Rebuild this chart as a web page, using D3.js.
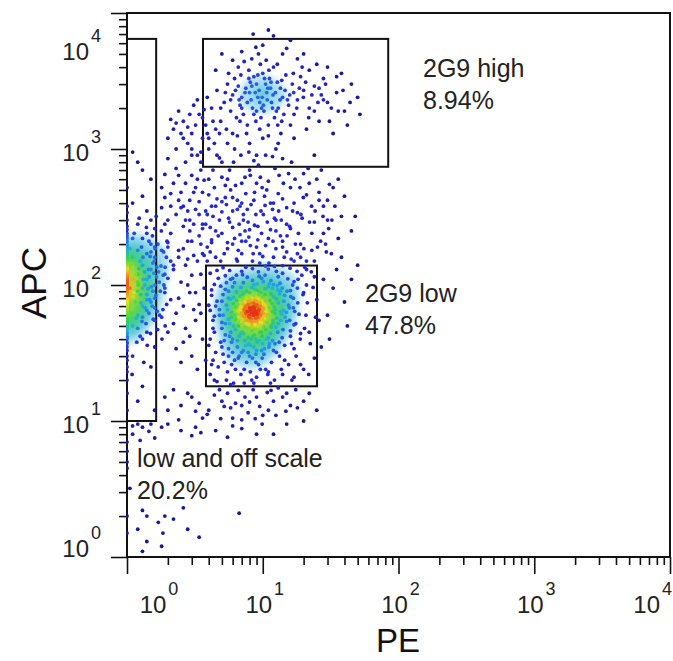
<!DOCTYPE html>
<html>
<head>
<meta charset="utf-8">
<script src="https://cdn.jsdelivr.net/npm/d3@7"></script>
<style>
  body { margin: 0; background: #fff; }
  svg { display: block; font-family: "Liberation Sans", Arial, sans-serif; }
</style>
</head>
<body>
<svg id="chart" width="673" height="661"></svg>
<script>
// --- DATA: events, [PE, APC] ---
const lowCore = [
  [4.6,128],[6.2,104],[7.5,135],[9.8,112],[12,101],[14,122],[5.3,117],[8.4,108],[11,131],[17,106],[7.1,119],[10.5,138],[5.8,110],[13,115],[9.1,102],
  [4.2,92],[5.1,85],[6.0,97],[6.8,83],[7.6,90],[8.3,96],[9.0,81],[9.7,88],[10.4,94],[11.5,86],[12.8,99],[14.5,84],[16,91],[5.6,80],[7.2,87],[8.8,93],[10,82],[11,97],[6.4,89],[13.5,90],[18,95],[4.9,98],[9.4,85],[7.9,82],
  [4.5,70],[5.0,76],[5.5,66],[6.1,73],[6.6,64],[7.0,78],[7.4,68],[7.8,72],[8.1,65],[8.5,75],[8.9,70],[9.3,79],[9.6,66],[10.1,73],[10.7,67],[11.3,77],[12.1,69],[13.0,74],[14.2,65],[15.5,71],[6.3,69],[7.6,64],[8.3,78],[9.0,63],[9.9,76],[11.8,64],[5.8,79],[8.0,68],[8.7,66],[10.4,71],[6.9,74],[12.6,79],[16.8,68],[4.1,65],[7.2,71],[9.5,74],
  [4.3,55],[4.8,60],[5.3,52],[5.9,58],[6.4,61],[6.8,53],[7.1,57],[7.5,62],[7.9,51],[8.2,56],[8.6,60],[8.9,54],[9.2,58],[9.6,50],[10.0,62],[10.6,55],[11.1,59],[11.9,52],[12.7,57],[13.8,61],[15.0,54],[6.1,50],[7.3,59],[8.4,53],[9.4,61],[10.3,57],[5.6,56],[7.7,55],[8.0,60],[8.8,51],[11.5,50],[6.6,57],[9.8,53],[14.6,58],[17.5,52],[12.3,62],[7.0,60],
  [4.4,45],[5.0,48],[5.7,42],[6.3,47],[6.9,44],[7.4,49],[7.8,41],[8.3,46],[8.7,43],[9.2,48],[9.9,42],[10.5,47],[11.4,44],[12.5,49],[13.9,41],[16,46],[6.0,40],[7.1,45],[8.0,48],[9.5,45],[11,41],[5.3,43],[8.9,40],[10.2,49],[19,44],
  [4.0,36],[4.9,38],[5.6,34],[6.5,39],[7.2,33],[7.9,37],[8.6,35],[9.4,39],[10.3,34],[11.2,37],[12.6,32],[14.5,36],[6.0,32],[8.2,40],[9.8,33],[5.2,39],[7.5,36],[11.8,39],[17,34],
  [4.3,28],[5.1,31],[5.9,26],[6.7,30],[7.6,27],[8.4,29],[9.3,26],[10.2,31],[11.6,27],[13.3,30],[6.2,28],[8.9,31],[15.5,26],[4.7,25],[7.0,32],
  [4.1,22],[5.4,20],[6.3,24],[7.3,19],[8.1,23],[9.0,21],[10.5,24],[12.2,20],[14,22],[5.8,18.5],[8.6,19],[11,23],[17,21],[20,24],[4.6,19.5],
  [6.7,58],[7.3,66],[8.6,62],[9.1,71],[7.9,59],[8.3,63],[6.9,69],[9.7,60],[10.6,64],[7.6,52],[8.9,57],[8.1,74],[7.0,62],[9.4,67],[6.5,72],[10.2,59],[8.4,81],[7.4,75],[11.2,68],[9.9,56],
  [5.9,63],[6.3,56],[7.7,48],[8.7,47],[9.6,53],[10.9,58],[11.7,73],[12.4,66],[6.1,81],[7.1,85],[8.0,88],[9.2,91],[10.4,85],[5.4,71],[5.1,60],[6.6,50],[7.2,44],[8.5,42],[9.8,45],[11.6,49],
  [8.2,67],[8.8,64],[7.5,70],[9.0,61],[8.0,58],[7.8,64],[9.3,65],[8.5,69],[7.2,59],[8.7,73],[6.8,66],[9.6,70],[10.0,67],[7.9,76],[8.3,54],[7.0,54],[9.2,50],[10.8,53],[6.2,60],[5.7,52],
  [7.4,39],[8.1,36],[6.7,42],[9.1,38],[10.7,40],[12.9,45],[13.6,55],[14.9,63],[12.0,82],[13.3,86],[5.6,90],[6.9,96],[4.8,66],[4.4,59],[11.9,55],[10.5,77],[7.6,80],[6.4,77],[9.0,76],[8.6,84]
];

// outer, sparser part of the 2G9 low gate
const lowGateEdge = [
  [4.1,122],[4.4,101],[4.2,84],[4.0,71],[4.3,48],[4.1,40],[4.5,32],[4.2,26],[4.4,20],[4.7,112],
  [5.1,134],[5.3,93],[5.0,35],[5.2,27],[5.5,23],[5.7,128],[5.9,38],[6.1,19],[6.4,118],[6.6,29],
  [7.0,126],[7.3,24],[7.7,114],[8.0,30],[8.4,132],[8.9,27],[9.3,125],[9.9,29],[10.4,118],[10.9,22],
  [11.5,108],[12.0,33],[12.6,126],[13.2,38],[13.9,95],[14.5,28],[15.3,111],[16.0,42],[16.8,80],[17.6,30],
  [18.5,61],[19.4,118],[20.3,48],[21.3,74],[22.4,37],[23.5,96],[24.5,58],[15.8,55],[17.2,64],[19.8,85],
  [14.1,47],[13.0,52],[16.3,37],[18.9,40],[12.3,37],[11.1,35],[10.0,37],[9.0,33],[7.8,32],[6.5,35],
  [5.8,45],[5.0,53],[4.6,76],[5.4,104],[6.0,112],[7.2,104],[8.6,100],[10.1,106],[11.8,95],[13.4,103],
  [15.1,90],[16.6,100],[18.2,110],[21,100],[22.8,125],[20.4,135],[17.9,126],[15.9,133],[14.0,139],[12.2,137],
  [6.9,22],[8.3,20],[9.6,24],[11.4,19],[13.7,24],[16.4,20],[19.0,26],[21.8,22],[24.0,29],[5.6,30],
  [14.3,76],[15.7,68],[17.0,51],[16.1,82],[13.6,64],[18.1,74],[20.8,60],[12.9,92],[11.2,102],[9.4,116]
];

const lowHalo = [
  [2.0,45],[2.3,62],[2.6,38],[2.9,88],[3.2,55],[3.5,120],[2.1,150],[2.5,105],[3.0,30],[3.4,72],[1.9,95],[2.2,130],[2.7,48],[3.1,165],[3.6,40],[2.4,80],[1.8,58],[2.8,210],[3.3,24],[3.7,95],
  [2.0,190],[2.6,70],[3.9,150],[2.3,34],[3.0,118],[2.1,78],[3.5,62],[2.9,42],[1.9,120],[3.2,88],[2.4,180],[2.7,140],[3.8,28],[2.2,52],[3.4,230],[2.8,100],[3.6,170],[2.5,27],[3.1,66],[2.0,112],
  [22,45],[25,78],[28,110],[24,150],[30,60],[33,95],[27,35],[35,130],[40,75],[23,180],[29,200],[38,160],[45,110],[21,130],[26,55],[32,170],[20,88],[36,220],[42,50],[50,140],[24,115],[31,40],[19,160],[28,240],
  [4.5,160],[5.5,185],[6.5,150],[7.5,210],[8.5,170],[9.5,145],[10.5,195],[12,160],[13.5,230],[15,175],[17,150],[5,240],[6,200],[7,170],[8,255],[9,190],[11,220],[14,190],[16,260],[19,200],[4.2,205],[6.8,235],[10,162],[12.5,250],[18,170],
  [3,15],[4,12],[5.5,16],[7,13],[8.5,17],[10,11],[12,14],[15,16],[18,12.5],[6,10.5],[9,15],[4.8,17],[11,12],[2.5,13],[3.6,10.5],[7.8,11.5],[13,17.5],[20,14],[5,14],
  [1.8,180],[2.1,240],[2.4,160],[2.7,300],[3.0,210],[3.3,150],[3.6,260],[3.9,190],[4.3,320],[4.7,230],
  [5.2,170],[5.7,290],[6.2,220],[6.8,380],[7.4,250],[8.1,195],[8.9,330],[9.8,240],[10.8,290],[11.9,210],
  [13.1,350],[14.4,160],[15.8,270],[17.4,200],[19.1,330],[21,150],[23,240],[25.3,190],[27.8,320],[30.6,260],
  [2.0,205],[2.3,330],[2.6,185],[2.9,250],[3.2,360],[3.5,200],[3.8,280],[4.1,175],[4.5,250],[5.0,345],
  [5.5,205],[6.0,265],[6.6,180],[7.2,300],[7.9,225],[8.7,275],[9.5,170],[10.4,385],[11.4,255],[12.5,185],
  [13.7,300],[15.1,230],[16.6,350],[18.3,240],[20.1,185],[22.1,290],[24.3,350],[26.7,210],[29.4,175],[32.3,300],
  [1.9,280],[2.2,140],[2.5,370],[2.8,155],[3.1,280],[3.4,330],[3.7,165],[4.2,215],[4.9,150],[5.4,390],
  [6.4,155],[7.0,210],[7.7,360],[8.4,150],[9.2,215],[10.1,330],[11.1,145],[12.2,310],[14.0,210],[16.2,155],
  [2.0,12],[2.8,16],[3.4,13.5],[4.4,15.5],[5.8,12.5],[6.6,16.8],[7.4,15],[8.0,13.8],[9.5,12.8],[10.8,16.2],
  [12.5,11],[14,15],[16,13],[17.5,17],[22,16],[25,12],[2.4,10.2],[3.9,11.2],[6.3,13.5],[9.9,9.5],
  [1.6,12],[1.9,15],[2.2,17],[3.2,11.8],[4.9,10.4],[7.0,10.2],[11.5,16.8],[14.8,11.8],[8.8,10.4],[5.2,12.8]
];

const midCloud = [
  [2.0,300],[2.4,420],[2.8,350],[3.2,520],[3.6,280],[4.0,460],[4.5,380],[5.0,620],[5.6,310],[6.3,540],[7.0,400],[7.8,290],[8.7,480],[9.7,350],[11,580],[12.5,300],[14,430],[16,520],[18,340],[21,460],
  [24,290],[28,380],[33,520],[38,320],[1.8,370],[2.2,560],[2.6,270],[3.0,640],[3.4,410],[3.9,330],[4.3,700],[4.8,300],[5.3,440],[6.0,350],[6.7,280],[7.4,620],[8.2,390],[9.2,270],[10.3,450],[11.8,360],
  [13.2,640],[15,280],[17,400],[19.5,310],[22,560],[26,420],[30,300],[2.1,470],[2.9,300],[3.7,590],[5.8,500],[6.5,420],[9,560],[12,400],[20,660],[4.1,265],[7.2,330],[25,600],[1.9,650],[8,700],
  [2.1,380],[2.5,480],[2.9,420],[3.3,600],[3.8,350],[4.4,520],[5.0,410],[5.7,700],[6.5,360],[7.5,470],
  [8.6,420],[9.9,520],[11.4,400],[13,470],[15,370],[17.3,600],[19.9,440],[22.9,380],[26,480],[30,420],
  [2.3,720],[2.7,560],[3.1,480],[3.5,800],[4.0,600],[4.6,430],[5.3,540],[6.1,800],[7.0,560],[8.1,640],
  [9.3,760],[10.7,500],[12.3,720],[14.2,560],[16.3,800],[18.8,520],[21.6,720],[1.8,520],[2.0,850],[2.4,640],
  [3.0,900],[3.6,480],[4.8,860],[5.5,600],[6.9,900],[8.6,820],[11.8,880],[15.5,660],[27,700],[34,380],
  [40,450],[45,250],[36,600],[48,320],[31,550],[1.9,440],[2.6,380],[4.2,380],[6.0,440],[9.6,620]
];

const highCluster = [
  [6.0,2500],[6.8,2100],[7.5,2800],[8.2,2300],[9.0,3000],[9.8,2000],[10.7,2600],[11.6,2200],[12.8,3100],[14,2400],[7.2,1800],[8.6,3400],[9.4,2700],[10.2,1900],[11.2,3300],[12.2,1700],[13.5,2800],[15.5,2100],
  [5.5,3000],[6.4,1700],[7.9,3800],[8.9,1600],[10.0,3600],[11.9,2500],[16.5,3000],[18,2300],[5.2,2200],[6.2,3300],[7.0,2400],[7.7,1500],[8.4,2000],[9.2,2400],[10.5,3000],[11.0,1500],[13.0,2000],[14.8,3500],
  [17,1800],[20,2700],[4.6,2700],[5.8,1900],[9.6,4200],[12,4000],[13.8,1600],[15.8,2500],[19,3400],[22,2000],[24,2900],[7.3,4400],[8.0,2600],[10.8,2300],[4.3,1600],[6.6,2900],[9.0,1900],[11.4,2800],[16,1500],
  [3.0,1300],[2.6,1600],[2.2,1400],[3.4,1800],[2.8,1100],[3.8,1500],[2.4,1900],[3.1,2100],[2.0,1200],[3.6,1200],[4.0,1000],[4.8,1300],[3.3,900],[2.7,800],[5.5,1100],[6.5,1250],[8.0,1100],[10,1200],
  [13,1100],[17,1200],[21,1400],[26,1600],[30,2200],[35,2600],[28,3300],[40,1900],[45,3000],[50,2400],[33,1300],[25,4200],[20,5000],[15,5500],[10,5800],[7,5200],[12,6800],[8.5,7000],[6.0,4500],[4.5,3800],
  [18,4600],[30,4000],[38,3600],[24,900],[14,850],[9,900],[5,800],[3.5,700],[42,1500],[52,1800],[27,2500],[2.3,1000],[11,7500],[16,6300],[3.9,2400],[5.0,5000],[22,3800],
  [7.7,2200],[8.8,2600],[9.9,2400],[10.9,2800],[8.3,2900],[9.5,2200],[11.8,2000],[7.4,2600],[6.7,2300],[10.3,3300],
  [12.4,2600],[13.4,2300],[8.1,3100],[9.2,3500],[6.3,2700],[5.8,2300],[7.0,2000],[11.5,3100],[14.6,2700],[10.1,2100],
  [8.6,1800],[9.7,1700],[12.6,1900],[6.9,3500],[7.9,3300],[11.1,3800],[13.8,3200],[5.3,2600],[4.9,2000],[15.2,2300],
  [16.9,2600],[18.6,2800],[20.7,3100],[17.8,2000],[19.9,2400],[23,2500],[25.5,2200],[21.8,1700],[14.3,1800],[12.9,1500],
  [3.2,1500],[3.6,1700],[3.9,1300],[4.2,2000],[4.5,1400],[2.9,1800],[3.3,2300],[2.5,1300],[2.8,1450],[3.7,1950],
  [4.0,1200],[4.4,1100],[4.9,1600],[5.4,1400],[6.0,1300],[6.8,1600],[7.6,1300],[9.5,1400],[11,1250],[13.6,1300],
  [5.6,3600],[6.6,4000],[8.3,4600],[9.3,5000],[10.6,4500],[12.8,4200],[14,5000],[16.8,3600],[19.5,4000],[8.9,5600],
  [26,2800],[29,3000],[32,2000],[35,3400],[31,1600],[28,2300],[36,1900],[24,1900],[39,2700],[44,2200],
  [2.3,1550],[2.6,1200],[2.1,1650],[3.0,1000],[3.5,950],[4.6,900],[6.2,1000],[7.9,950],[10.5,900],[12.5,1000]
];

// events piled on the PE axis (PE <= 1) and inside the narrow left gate
const leftEdge = [
  [1,40],[1,48],[1,55],[1,60],[1,66],[1,72],[1,78],[1,85],[1,92],[1,100],[1,110],[1,120],[1,130],[1,145],[1,160],[1,45],[1,52],[1,63],[1,70],[1,82],
  [1,96],[1,115],[1,138],[1,175],[1,200],[1,240],[1,300],[1,380],[1,35],[1,30],[1,25],[1,20],[1,16],[1,12],[1,68],[1,88],[1,105],[1,58],
  [1,50],[1,62],[1,75],[1,80],[1,90],[1,98],[1,102],[1,108],[1,112],[1,118],[1,125],[1,135],[1,150],[1,165],[1,185],[1,220],[1,270],[1,340],[1,42],[1,38],
  [1,47],[1,51],[1,54],[1,57],[1,61],[1,64],[1,67],[1,71],[1,74],[1,77],[1,81],[1,84],[1,87],[1,91],[1,94],[1,97],[1,101],[1,104],[1,107],[1,111],
  [1,114],[1,117],[1,122],[1,127],[1,132],[1,141],[1,152],[1,170],[1,190],[1,210],
  [1,49],[1,53],[1,56],[1,59],[1,65],[1,69],[1,73],[1,76],[1,79],[1,83],[1,86],[1,89],[1,93],[1,95],[1,99],[1,103],[1,106],[1,109],[1,113],[1,116],
  [1,119],[1,124],[1,129],[1,134],[1,139],[1,143],[1,148],[1,156],[1,162],[1,168],[1,178],[1,195],[1,230],[1,255],[1,44],[1,41],[1,37],[1,33],[1,28],[1,23],
  [1.2,60],[1.4,85],[1.1,110],[1.3,140],[1.5,75],[1.6,100],[1.2,180],[1.4,45],[1.1,220],[1.5,130],[1.3,95],[1.6,55],[1.2,280],[1.4,350],[1.1,70],[1.5,200],[1.3,40],[1.6,160],[1.2,120],[1.4,65],
  [1.1,30],[1.5,25],[1.3,18],[1.6,35],[1.2,90],[1.4,240],[1.1,160],[1.3,450],[1.5,600],[1.2,800],[1.4,110],[1.1,50],[1.6,80],[1.3,70],[1.2,14],[1.5,300],[1.1,400],[1.4,170],[1.6,260],[1.3,220],
  [1.15,75],[1.35,125],[1.55,90],[1.25,150],[1.45,62],[1.05,95],[1.65,115],[1.2,48],[1.5,175],[1.35,100],[1.1,135],[1.6,68],[1.3,58],[1.45,210],[1.2,105],[1.55,145],[1.05,185],[1.4,78],[1.25,42],[1.6,190],
  [1.08,66],[1.12,88],[1.17,57],[1.22,132],[1.27,74],[1.32,110],[1.38,52],[1.43,94],[1.48,162],[1.53,70],[1.58,122],[1.63,84],[1.68,47],[1.73,105],[1.78,138],[1.84,66],[1.9,88],[1.95,160],[1.07,145],[1.13,240],
  [1.18,38],[1.23,310],[1.28,190],[1.33,27],[1.39,265],[1.44,130],[1.49,44],[1.54,230],[1.59,150],[1.64,320],[1.69,200],[1.74,60],[1.79,250],[1.85,118],[1.91,50],[1.97,210],[1.09,22],[1.16,120],[1.26,85],[1.36,68],
  [1.46,115],[1.56,56],[1.66,135],[1.76,90],[1.86,175],[1.96,72],[1.06,60],[1.21,100],[1.31,160],[1.41,36],[1.51,97],[1.61,185],[1.71,125],[1.81,40],[1.91,135],[1.11,82],[1.29,54],[1.47,78],[1.67,64],[1.87,100],
  [1.1,950],[1.3,700],[1.0,520]
];

// below APC 10: the "low and off scale" remainder
const offScale = [
  [1.1,8],[1.3,9],[1.6,7.5],[2.0,9.5],[2.5,8.5],[3.2,9],[1.0,6],[1.0,5],[1.0,4.5],[1.05,3.2],[1.3,2.2],[1.0,2],[1.2,1.6],[1.4,1.3],[1.8,1.2],[2.2,1.9],
  [4.5,8.5],[6,9.2],[9,8],[3,7.8],[1.3,1.1],[1.0,7],[1.9,2.0],[7,8.8],[1.0,1.5],[1.5,9.5],[1.2,9.5],[1.8,9],[1.1,9.2],[3.5,8.2],[5.5,7.6],[12,8],
  [2.8,1.6],[1.7,1.8],[3.4,1.4],[15,9.5],[20,10],[1.4,2],[2.6,2.3],[6.7,2.1],[1.84,1.5],[1.25,7.2],[1.45,8.4]
];

// gates: [PE min, PE max, APC min, APC max]
const gateBounds = [[1, 1.64, 10, 6450], [3.63, 84, 740, 6450], [3.82, 25.1, 18, 139]];
const gateLabels = ["low and off scale", "2G9 high", "2G9 low"];
const gatePercents = ["20.2%", "8.94%", "47.8%"];

const decades = [1, 10, 100, 1000, 10000];
const decadeExp = ["0", "1", "2", "3", "4"];

// --- SETUP ---
const W = 673, H = 661;
const svg = d3.select("#chart");
const x = d3.scaleLog().domain([1, 1e4]).range([127, 670]);
const y = d3.scaleLog().domain([1, 1e4]).range([557, 13]);

const allPts = [].concat(lowCore, lowGateEdge, lowHalo, midCloud, highCluster, leftEdge, offScale);

// colour ramp: navy (sparse) -> blue -> cyan -> green -> yellow -> red (dense)
const ramp = d3.scaleLinear()
  .domain([0, 0.18, 0.38, 0.58, 0.78, 1])
  .range(["#14147a", "#2828d8", "#22aaee", "#33d844", "#eedd22", "#e8321a"])
  .clamp(true);

const defs = svg.append("defs");
defs.append("clipPath").attr("id", "plotclip")
  .append("rect").attr("x", 126).attr("y", 13).attr("width", 544).attr("height", 544);
defs.append("filter").attr("id", "soft")
  .append("feGaussianBlur").attr("stdDeviation", 3);

// density backdrop (soft haze under the dense parts)
const dens = d3.contourDensity()
  .x(d => x(d[0])).y(d => y(d[1]))
  .size([W, H]).bandwidth(9).thresholds(18)(allPts);
const maxD = d3.max(dens, c => c.value);

svg.append("g").attr("clip-path", "url(#plotclip)")
  .append("g").attr("filter", "url(#soft)")
  .selectAll("path")
  .data(dens.filter(c => c.value >= 0.2 * maxD))
  .join("path")
  .attr("d", d3.geoPath())
  .attr("fill", c => ramp(0.2 + 0.8 * c.value / maxD))
  .attr("fill-opacity", 0.4);

// per-event density for dot colour
const px = allPts.map(d => [x(d[0]), y(d[1])]);
const sig2 = 2 * 8 * 8;
const local = px.map(p => d3.sum(px, q => Math.exp(-((p[0]-q[0])**2 + (p[1]-q[1])**2) / sig2)));
const maxL = d3.quantile(local.slice().sort(d3.ascending), 0.99);

// gates
const gateG = svg.append("g");
gateBounds.forEach(b => {
  gateG.append("rect")
    .attr("x", x(b[0])).attr("y", y(b[3]))
    .attr("width", x(b[1]) - x(b[0]))
    .attr("height", y(b[2]) - y(b[3]))
    .attr("fill", "none").attr("stroke", "#111").attr("stroke-width", 2);
});

// --- AXES ---
const minorTicks = [];
decades.slice(0, 4).forEach(d => { for (let k = 2; k <= 9; k++) minorTicks.push(d * k); });

const xAxisG = svg.append("g").attr("transform", `translate(0,${y(1)})`);
xAxisG.call(d3.axisBottom(x).tickValues(minorTicks).tickSize(8).tickFormat(""));
xAxisG.call(g => g.select(".domain").remove());
xAxisG.append("g").call(d3.axisBottom(x).tickValues(decades).tickSize(17).tickFormat(""))
  .call(g => g.select(".domain").remove());

const yAxisG = svg.append("g").attr("transform", `translate(${x(1)},0)`);
yAxisG.call(d3.axisLeft(y).tickValues(minorTicks).tickSize(8).tickFormat(""));
yAxisG.call(g => g.select(".domain").remove());
yAxisG.append("g").call(d3.axisLeft(y).tickValues(decades).tickSize(16).tickFormat(""))
  .call(g => g.select(".domain").remove());

svg.selectAll(".tick line").attr("stroke", "#111").attr("stroke-width", 1.6);

// frame
svg.append("rect")
  .attr("x", x(1)).attr("y", y(1e4))
  .attr("width", x(1e4) - x(1)).attr("height", y(1) - y(1e4))
  .attr("fill", "none").attr("stroke", "#111").attr("stroke-width", 2);

// dots (drawn over the axis so the pile at PE=1 shows)
svg.append("g").attr("clip-path", "url(#plotclip)")
  .selectAll("circle")
  .data(allPts)
  .join("circle")
  .attr("cx", d => x(d[0]))
  .attr("cy", d => y(d[1]))
  .attr("r", 1.9)
  .attr("fill", (d, i) => ramp(local[i] / maxL));

// tick labels 10^n
const xLab = svg.append("g").attr("fill", "#222");
decades.forEach((d, i) => {
  let cx = x(d) + 2, anchor = "middle";
  if (i === 0) cx = x(d) + 32;
  if (i === 4) { cx = 672; anchor = "end"; }
  const t = xLab.append("text").attr("x", cx).attr("y", 613).attr("text-anchor", anchor);
  t.append("tspan").attr("font-size", 24).text("10");
  t.append("tspan").attr("font-size", 18).attr("dx", 2).attr("dy", -18).text(decadeExp[i]);
});

const yLab = svg.append("g").attr("fill", "#222");
decades.forEach((d, i) => {
  let by = y(d) + 12;
  if (i === 0) by = y(d);
  if (i === 4) by = 60;
  const t = yLab.append("text").attr("x", 101).attr("y", by).attr("text-anchor", "end");
  t.append("tspan").attr("font-size", 24).text("10");
  t.append("tspan").attr("font-size", 18).attr("dx", 2).attr("dy", -18).text(decadeExp[i]);
});

// axis titles
svg.append("text").attr("x", 398).attr("y", 652).attr("text-anchor", "middle")
  .attr("font-size", 33).attr("fill", "#111").text("PE");
svg.append("text").attr("transform", "translate(46,283) rotate(-90)").attr("text-anchor", "middle")
  .attr("font-size", 35).attr("fill", "#111").text("APC");

// gate annotations
const labelPos = [[137, 467], [423, 77], [365, 302]];
gateLabels.forEach((s, i) => {
  const g = svg.append("g").attr("fill", "#222").attr("font-size", 25);
  g.append("text").attr("x", labelPos[i][0]).attr("y", labelPos[i][1]).text(s);
  g.append("text").attr("x", labelPos[i][0]).attr("y", labelPos[i][1] + 32).text(gatePercents[i]);
});
</script>
</body>
</html>
